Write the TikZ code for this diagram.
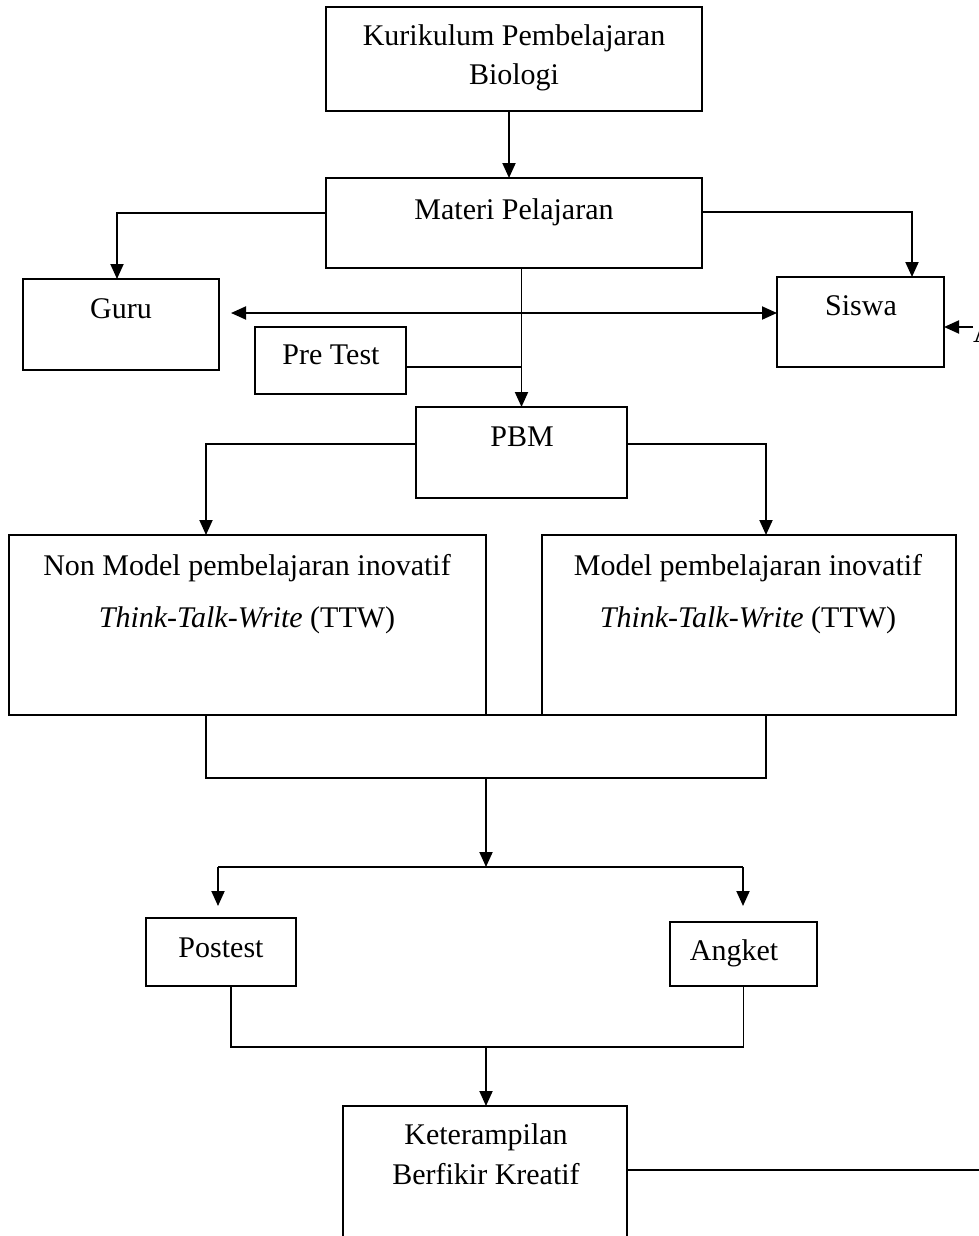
\documentclass[tikz,border=0pt]{standalone}
\usepackage{fontspec}
\setmainfont{Liberation Serif}
\usetikzlibrary{arrows.meta}
\begin{document}
\begin{tikzpicture}[x=1pt,y=-1pt,
  box/.style={draw, line width=1.9pt, rectangle, inner sep=0pt, outer sep=0pt, anchor=north west},
  txt/.style={font=\fontsize{30}{40}\selectfont, inner sep=0pt, anchor=base},
  conn/.style={line width=1.9pt},
  arr/.style={line width=1.9pt, -{Triangle[length=15pt,width=13pt]}},
  darr/.style={line width=1.9pt, {Triangle[length=15pt,width=13pt]}-{Triangle[length=15pt,width=13pt]}},
]
\useasboundingbox (0,0) rectangle (979,1236);

% boxes
\node[box, minimum width=376pt, minimum height=104pt] (kur) at (326,7) {};
\node[box, minimum width=376pt, minimum height=90pt] (mat) at (326,178) {};
\node[box, minimum width=196pt, minimum height=91pt] (guru) at (23,279) {};
\node[box, minimum width=167pt, minimum height=90pt] (siswa) at (777,277) {};
\node[box, minimum width=151pt, minimum height=67pt] (pre) at (255,327) {};
\node[box, minimum width=211pt, minimum height=91pt] (pbm) at (416,407) {};
\node[box, minimum width=477pt, minimum height=180pt] (non) at (9,535) {};
\node[box, minimum width=414pt, minimum height=180pt] (mod) at (542,535) {};
\node[box, minimum width=150pt, minimum height=68pt] (post) at (146,918) {};
\node[box, minimum width=147pt, minimum height=64pt] (ang) at (670,922) {};
\node[box, minimum width=284pt, minimum height=200pt] (ket) at (343,1106) {};

% texts
\node[txt] (kurA) at (514,46) {Kurikulum Pembelajaran};
\node[txt] (kurB) at (514,85) {Biologi};
\node[txt] (matT) at (514,219) {Materi Pelajaran};
\node[txt] (guruT) at (121,318) {Guru};
\node[txt] (siswaT) at (861,315) {Siswa};
\node[txt] (preT) at (331,364) {Pre Test};
\node[txt] (pbmT) at (522,446) {PBM};
\node[txt] (nonA) at (247,575) {Non Model pembelajaran inovatif};
\node[txt] (nonB) at (247,627) {\textit{Think-Talk-Write} (TTW)};
\node[txt] (modA) at (748,575) {Model pembelajaran inovatif};
\node[txt] (modB) at (748,627) {\textit{Think-Talk-Write} (TTW)};
\node[txt] (postT) at (221,957) {Postest};
\node[txt] (angT) at (734,960) {Angket};
\node[txt] (ketA) at (486,1144) {Keterampilan};
\node[txt] (ketB) at (486,1184) {Berfikir Kreatif};
\node[txt, anchor=base west] (aT) at (973,342) {A};

% helper coordinates
\coordinate (ga) at (231,313);
\coordinate (j1) at (486,778);
\coordinate (j2) at (486,867);
\coordinate (pl) at (218,867);
\coordinate (pr) at (743,867);
\coordinate (j4) at (486,1047);
\coordinate (e1) at (979,1170);
\coordinate (e2) at (973,327);

% connectors
\draw[arr] ([xshift=-5pt]kur.south) -- ([xshift=-5pt]mat.north);
\draw[arr] ([yshift=10pt]mat.west) -| ([xshift=-4pt]guru.north);
\draw[arr] ([yshift=11pt]mat.east) -| ([xshift=51.5pt]siswa.north);
\draw[darr] (ga) -- (ga -| siswa.west);
\draw[arr] (mat.south -| pbm.north) -- (pbm.north);
\draw[conn] ([yshift=-6.5pt]pre.east) -- ([yshift=-6.5pt]pre.east -| pbm.north);
\draw[arr] ([yshift=8.5pt]pbm.west) -| ([xshift=-41.5pt]non.north);
\draw[arr] ([yshift=8.5pt]pbm.east) -| ([xshift=17pt]mod.north);
\draw[conn] (non.south east) -- (mod.south west);
\draw[conn] ([xshift=-41.5pt]non.south) |- (j1) -| ([xshift=17pt]mod.south);
\draw[arr] (j1) -- (j2);
\draw[conn] (pl) -- (pr);
\draw[arr, shorten >=12pt] (pl) -- (pl |- post.north);
\draw[arr, shorten >=16pt] (pr) -- (pr |- ang.north);
\draw[conn] ([xshift=10pt]post.south) |- (j4) -| (ang.south);
\draw[arr] (j4) -- (j4 |- ket.north);
\draw[conn] (ket.east |- e1) -- (e1);
\draw[arr] (e2) -- (e2 -| siswa.east);
\end{tikzpicture}
\end{document}
